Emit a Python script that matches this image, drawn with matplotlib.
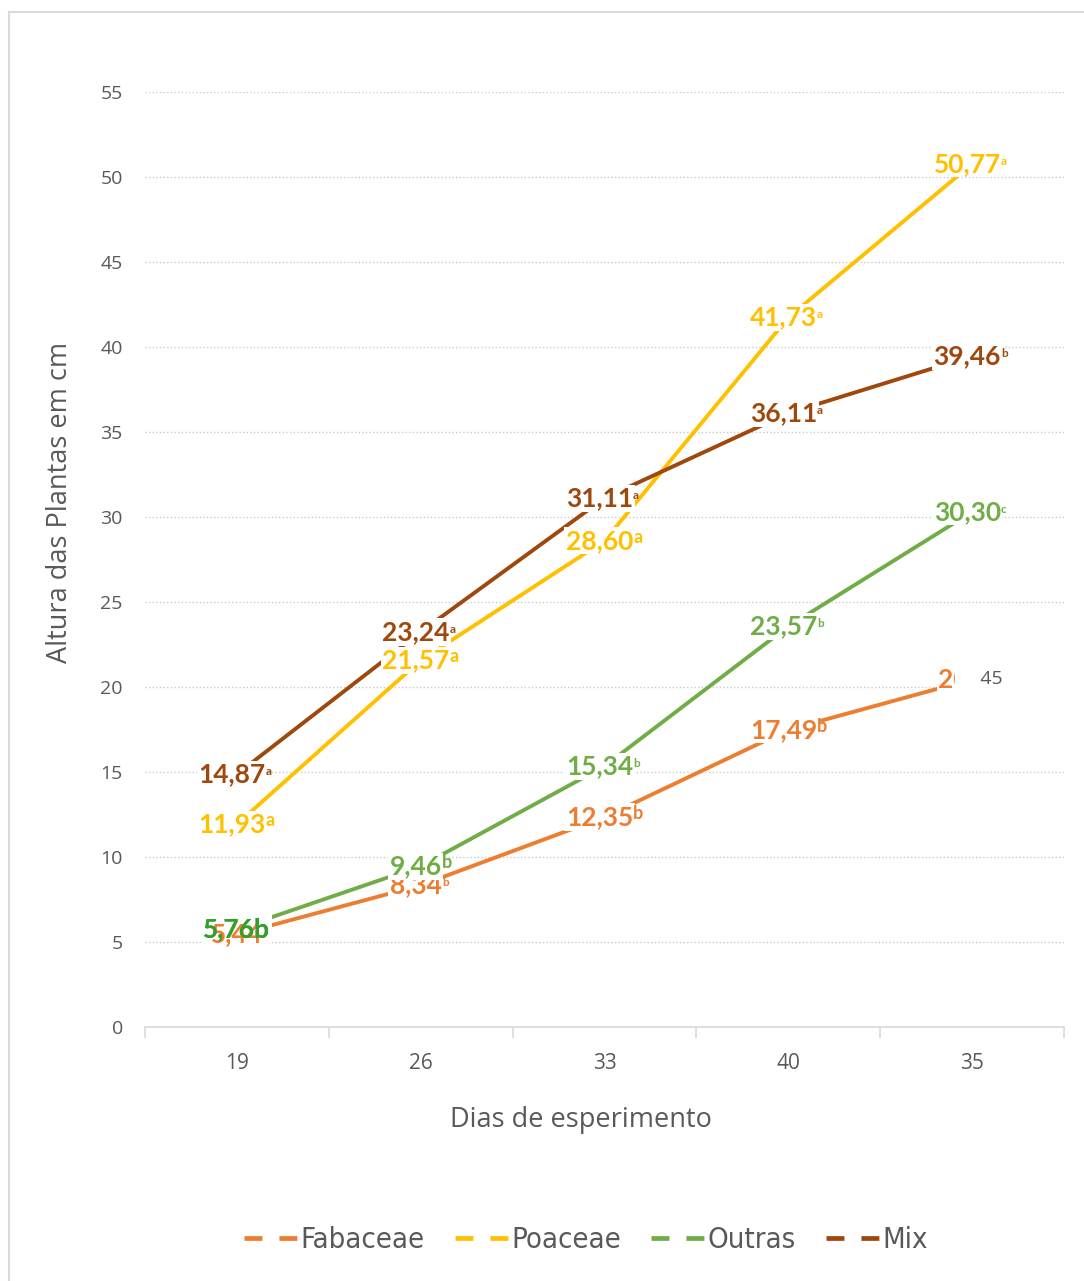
import matplotlib
matplotlib.use("Agg")
import matplotlib.pyplot as plt
from matplotlib.lines import Line2D
import numpy as np

# ---- data ----
dias = ["19", "26", "33", "40", "35"]
series = ["Fabaceae", "Poaceae", "Outras", "Mix"]
fabaceae = [5.44, 8.34, 12.35, 17.49, 20.45]
poaceae = [11.93, 21.57, 28.60, 41.73, 50.77]
outras = [5.76, 9.46, 15.34, 23.57, 30.30]
mix = [14.87, 23.24, 31.11, 36.11, 39.46]

# significance letters for each point
fabaceae_letras = ["", "b", "b", "b", ""]
poaceae_letras = ["a", "a", "a", "a", "a"]
outras_letras = ["b", "b", "b", "b", "c"]
mix_letras = ["a", "a", "a", "a", "b"]

# ---- styling ----
cores = {"Fabaceae": "#ED7D31", "Poaceae": "#FFC000", "Outras": "#70AD47", "Mix": "#9E480E"}
# superscript style per label: L = large, S = small, I = inline, "" = none
estilos = {
    "Fabaceae": ["", "S", "L", "L", ""],
    "Poaceae": ["L", "L", "L", "S", "S"],
    "Outras": ["I", "L", "S", "S", "S"],
    "Mix": ["S", "S", "S", "S", "S"],
}
valores = {"Fabaceae": fabaceae, "Poaceae": poaceae, "Outras": outras, "Mix": mix}
letras = {"Fabaceae": fabaceae_letras, "Poaceae": poaceae_letras,
          "Outras": outras_letras, "Mix": mix_letras}

W, H = 1084, 1281
fig = plt.figure(figsize=(W / 100, H / 100), dpi=100)
fig.patch.set_facecolor("white")

ax = fig.add_axes([145 / W, 1 - 1027 / H, (1064 - 145) / W, (1027 - 92) / H])
ax.set_xlim(-0.5, len(dias) - 0.5)
ax.set_ylim(0, 55)

grey_txt = "#595959"
grid_c = "#cccccc"

ax.set_yticks(np.arange(0, 56, 5))
ax.yaxis.grid(True, linestyle=(0, (1, 1.6)), color=grid_c, lw=1.0)
ax.set_axisbelow(True)
for s in ["left", "right", "top"]:
    ax.spines[s].set_visible(False)
ax.spines["bottom"].set_color("#d9d9d9")
ax.spines["bottom"].set_linewidth(1.2)
ax.tick_params(axis="y", length=0, pad=16, labelsize=14, labelcolor=grey_txt)
for t in ax.get_yticklabels():
    t.set_family("Open Sans")

# category boundaries carry the tick marks, category centres carry the labels
x = np.arange(len(dias))
ax.set_xticks(np.arange(-0.5, len(dias), 1))
ax.set_xticklabels([])
ax.tick_params(axis="x", which="major", length=8, color="#d9d9d9", width=1.2)
ax.set_xticks(x, minor=True)
ax.set_xticklabels(dias, minor=True)
ax.tick_params(axis="x", which="minor", length=0, pad=19, labelsize=15, labelcolor=grey_txt)
for t in ax.get_xticklabels(minor=True):
    t.set_family("Open Sans")

# lines
for nome in series:
    ax.plot(x, valores[nome], color=cores[nome], lw=2.8, solid_capstyle="butt", zorder=2)


def fmt(v):
    return f"{v:.2f}".replace(".", ",")


FS = 19


def rotulo(xi, v, letra, estilo, cor, z, caixa=True):
    texto = fmt(v)
    if estilo == "I":
        texto = texto + letra
        cor = "#33A02C"
    dx = -3.5 if estilo in ("L", "S") else 0
    bbox = dict(boxstyle="square,pad=0.06", fc="white", ec="none") if caixa else None
    txt = ax.annotate(texto, xy=(xi, v), xytext=(dx, 0), textcoords="offset points",
                      ha="center", va="center", fontsize=FS, fontweight="bold",
                      family="Lato", color=cor, zorder=z, annotation_clip=False, bbox=bbox)
    if estilo == "L":
        ax.annotate(letra, xy=(1, 1.0), xycoords=txt, ha="left", va="top",
                    fontsize=13, fontweight="bold", family="Lato", color=cor, zorder=z)
    elif estilo == "S":
        ax.annotate(letra, xy=(1, 0.62), xycoords=txt, ha="left", va="center",
                    fontsize=8.5, fontweight="bold", family="Lato", color=cor, zorder=z)
    return txt


z = 5
for nome in series:
    for xi, v, l, e in zip(x, valores[nome], letras[nome], estilos[nome]):
        rotulo(xi, v, l, e, cores[nome], z)
        z += 0.01

# the first Fabaceae value sits partly under the Outras label: show it above the
# Outras label's backing, and the Outras digits once more on top
rotulo(x[0], fabaceae[0], fabaceae_letras[0], estilos["Fabaceae"][0], cores["Fabaceae"], 6, caixa=False)
rotulo(x[0], outras[0], outras_letras[0], estilos["Outras"][0], cores["Outras"], 6.1, caixa=False)

# stray value label at the last Fabaceae point
ax.annotate("   45            ", xy=(x[-1], fabaceae[-1]), xytext=(-5, 0), textcoords="offset points",
            ha="left", va="center", fontsize=14, family="Open Sans", color=grey_txt,
            zorder=9, annotation_clip=False,
            bbox=dict(boxstyle="square,pad=0.5", fc="white", ec="none"))

# axis titles
fig.text(60 / W, 1 - 502 / H, "Altura das Plantas em cm", rotation=90, ha="center", va="center",
         fontsize=19.5, family="Open Sans", color=grey_txt)
fig.text(581 / W, 1 - 1120 / H, "Dias de esperimento", ha="center", va="center",
         fontsize=19.5, family="Open Sans", color=grey_txt)

# legend
LFS = 21
handles = [Line2D([], [], color=cores[n], lw=3.4, linestyle=(0, (3.8, 3.6)),
                  dash_capstyle="butt") for n in series]
leg = fig.legend(handles, series, loc="center", bbox_to_anchor=(586 / W, 1 - 1240 / H),
                 ncol=4, frameon=False, handlelength=53 / (LFS * 100 / 72),
                 handletextpad=0.1, columnspacing=1.05,
                 prop={"family": "DejaVu Sans", "stretch": "condensed", "size": LFS})
for t in leg.get_texts():
    t.set_color(grey_txt)

# chart-area border
bc = "#d9d9d9"
fig.add_artist(Line2D([8.5 / W, 8.5 / W], [0, 1 - 11.5 / H], transform=fig.transFigure, color=bc, lw=1.5))
fig.add_artist(Line2D([8.5 / W, 1], [1 - 11.5 / H, 1 - 11.5 / H], transform=fig.transFigure, color=bc, lw=1.5))

fig.savefig("out.png", dpi=100, facecolor="white")
